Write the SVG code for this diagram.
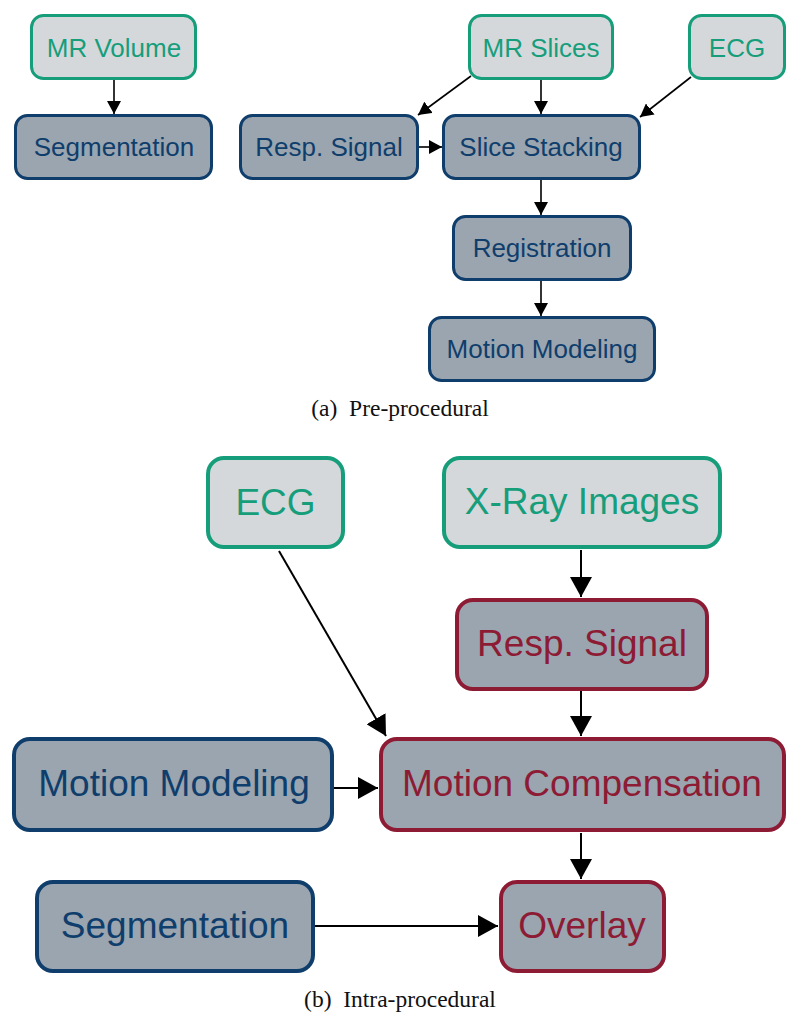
<svg xmlns="http://www.w3.org/2000/svg" width="800" height="1027" viewBox="0 0 800 1027">
<style>
.in{fill:#d4d8db;stroke:#169e7b}
.pr{fill:#9aa5b0;stroke:#0f3e6c}
.rd{fill:#9aa5b0;stroke:#8d1b34}
.s{stroke-width:3}
.b{stroke-width:4}
text{font-family:"Liberation Sans",Arial,sans-serif;text-anchor:middle}
.ts{font-size:26px}
.tb{font-size:37px}
.tg{fill:#169e7b}
.tp{fill:#0f3e6c}
.tr{fill:#8d1b34}
.cap{font-family:"Liberation Serif","Times New Roman",serif;font-size:23.5px;fill:#111}
.c{stroke:#000;fill:none}
</style>
<defs>
<marker id="ah" markerUnits="userSpaceOnUse" markerWidth="14" markerHeight="14" refX="13" refY="7" orient="auto"><path d="M0,0 L13,7 L0,14 z" fill="#000"/></marker>
<marker id="ahb" markerUnits="userSpaceOnUse" markerWidth="20" markerHeight="22" refX="20" refY="11" orient="auto"><path d="M0,0 L20,11 L0,22 z" fill="#000"/></marker>
</defs>
<g id="connectors">
<line class="c" stroke-width="1.6" x1="114" y1="80" x2="114" y2="114" marker-end="url(#ah)"/>
<line class="c" stroke-width="1.6" x1="541" y1="80" x2="541" y2="114" marker-end="url(#ah)"/>
<line class="c" stroke-width="1.6" x1="471" y1="76" x2="418" y2="115" marker-end="url(#ah)"/>
<line class="c" stroke-width="1.6" x1="691" y1="77" x2="640" y2="117" marker-end="url(#ah)"/>
<line class="c" stroke-width="1.6" x1="418" y1="147" x2="442" y2="147" marker-end="url(#ah)"/>
<line class="c" stroke-width="1.6" x1="541" y1="180" x2="541" y2="215" marker-end="url(#ah)"/>
<line class="c" stroke-width="1.6" x1="541" y1="281" x2="541" y2="316" marker-end="url(#ah)"/>
<line class="c" stroke-width="2" x1="581" y1="550" x2="581" y2="597" marker-end="url(#ahb)"/>
<line class="c" stroke-width="2" x1="581" y1="691" x2="581" y2="736" marker-end="url(#ahb)"/>
<line class="c" stroke-width="2" x1="279" y1="551" x2="386" y2="736" marker-end="url(#ahb)"/>
<line class="c" stroke-width="2" x1="334" y1="788" x2="378" y2="788" marker-end="url(#ahb)"/>
<line class="c" stroke-width="2" x1="581" y1="833" x2="581" y2="879" marker-end="url(#ahb)"/>
<line class="c" stroke-width="2" x1="315" y1="926" x2="498" y2="926" marker-end="url(#ahb)"/>
</g>
<g id="mr-volume"><rect class="in s" x="31.5" y="15.5" width="164" height="63" rx="12"/><text class="ts tg" x="114" y="57">MR Volume</text></g>
<g id="segmentation-a"><rect class="pr s" x="15.5" y="115.5" width="196" height="63" rx="12"/><text class="ts tp" x="114" y="156">Segmentation</text></g>
<g id="mr-slices"><rect class="in s" x="469.5" y="15.5" width="143" height="63" rx="12"/><text class="ts tg" x="541" y="57">MR Slices</text></g>
<g id="ecg-a"><rect class="in s" x="689.5" y="15.5" width="95" height="63" rx="12"/><text class="ts tg" x="737" y="57">ECG</text></g>
<g id="resp-signal-a"><rect class="pr s" x="240.5" y="115.5" width="177" height="63" rx="12"/><text class="ts tp" x="329" y="156">Resp. Signal</text></g>
<g id="slice-stacking"><rect class="pr s" x="443.5" y="115.5" width="196" height="63" rx="12"/><text class="ts tp" x="541" y="156">Slice Stacking</text></g>
<g id="registration"><rect class="pr s" x="453.5" y="216.5" width="177" height="63" rx="12"/><text class="ts tp" x="542" y="257">Registration</text></g>
<g id="motion-modeling-a"><rect class="pr s" x="429.5" y="317.5" width="225" height="63" rx="12"/><text class="ts tp" x="542" y="358">Motion Modeling</text></g>
<text class="cap" x="400" y="416" xml:space="preserve">(a)  Pre-procedural</text>
<g id="ecg-b"><rect class="in b" x="208" y="458" width="135" height="89" rx="16"/><text class="tb tg" x="275.5" y="515">ECG</text></g>
<g id="xray-images"><rect class="in b" x="444" y="458" width="276" height="89" rx="16"/><text class="tb tg" x="582" y="514">X-Ray Images</text></g>
<g id="resp-signal-b"><rect class="rd b" x="457" y="600" width="250" height="89" rx="16"/><text class="tb tr" x="582" y="656">Resp. Signal</text></g>
<g id="motion-modeling-b"><rect class="pr b" x="14" y="739" width="318" height="91" rx="16"/><text class="tb tp" x="174" y="796">Motion Modeling</text></g>
<g id="motion-compensation"><rect class="rd b" x="381" y="739" width="403" height="91" rx="16"/><text class="tb tr" x="582" y="796">Motion Compensation</text></g>
<g id="segmentation-b"><rect class="pr b" x="37" y="882" width="276" height="89" rx="16"/><text class="tb tp" x="175" y="938">Segmentation</text></g>
<g id="overlay"><rect class="rd b" x="501" y="882" width="163" height="89" rx="16"/><text class="tb tr" x="582" y="938">Overlay</text></g>
<text class="cap" x="400" y="1007" xml:space="preserve">(b)  Intra-procedural</text>
</svg>
